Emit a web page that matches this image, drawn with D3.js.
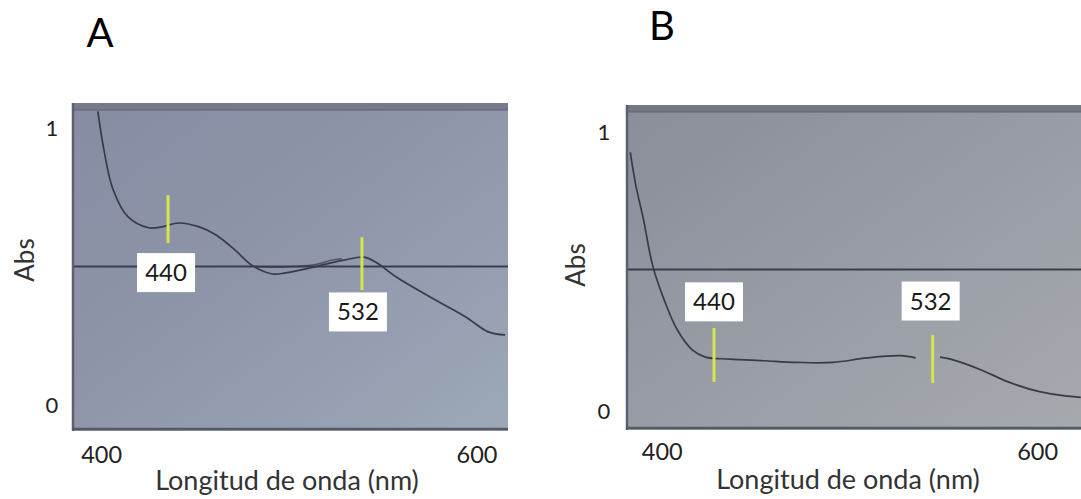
<!doctype html>
<html>
<head>
<meta charset="utf-8">
<script src="https://cdn.jsdelivr.net/npm/d3@7"></script>
<style>
  html, body { margin: 0; padding: 0; background: #ffffff; }
  svg { display: block; }
</style>
</head>
<body>
<div id="chart"></div>
<script>
// Spectra (wavelength nm, Abs)
const wavelengthsA = [398, 401, 406, 414, 425, 432, 441, 452, 461, 471, 480, 491, 498, 511, 522, 529, 540, 546, 557, 575, 594, 606, 615];
const absA = [1.06, 0.93, 0.78, 0.68, 0.64, 0.643, 0.657, 0.643, 0.614, 0.56, 0.505, 0.473, 0.477, 0.495, 0.513, 0.523, 0.534, 0.516, 0.462, 0.39, 0.318, 0.264, 0.253];

// faint second trace overlapping the midline in A
const wavelengthsA2 = [481, 492, 503, 514, 522, 528];
const absA2 = [0.5, 0.497, 0.5, 0.507, 0.522, 0.528];

// B has a gap in the trace around the 532 marker
const wavelengthsB1 = [383, 386, 390, 395, 401, 408, 416, 423, 436, 454, 472, 491, 509, 527, 535];
const absB1 = [0.92, 0.8, 0.68, 0.512, 0.392, 0.284, 0.212, 0.186, 0.179, 0.173, 0.167, 0.167, 0.183, 0.191, 0.183];
const wavelengthsB2 = [548, 555, 570, 584, 601, 616, 623];
const absB2 = [0.186, 0.176, 0.14, 0.098, 0.062, 0.046, 0.042];

const xTicks = [400, 600];
const yTicks = [0, 1];
const midlineAbs = 0.5;

// annotation markers: label, marker wavelength, marker top/bottom and box centre (Abs)
const peakLabels = ["440", "532"];
const markerWlA = [435.4, 538.7];
const markerTopA = [0.758, 0.606];
const markerBotA = [0.585, 0.415];
const boxAbsA = [0.478, 0.336];

const markerWlB = [427.6, 544.1];
const markerTopB = [0.29, 0.265];
const markerBotB = [0.097, 0.093];
const boxAbsB = [0.384, 0.387];

const W = 1081, H = 499;
const FONT = 'Lato, "Open Sans", "Noto Sans", sans-serif';
const TEXT = "#222222";
const CURVE = "#373b48";
const MARK = "#d4e64c";

const svg = d3.select("#chart").append("svg")
  .attr("width", W).attr("height", H)
  .style("font-family", FONT);

const defs = svg.append("defs");

function zip(xs, ys) { return xs.map((x, i) => [x, ys[i]]); }

function addGradient(id, stops) {
  const g = defs.append("linearGradient").attr("id", id)
    .attr("x1", "0%").attr("y1", "0%").attr("x2", "100%").attr("y2", "100%");
  stops.forEach(([o, c]) => g.append("stop").attr("offset", o).attr("stop-color", c));
}

addGradient("bgA", [["0%", "#868ca1"], ["45%", "#8f95a9"], ["100%", "#9ca8b8"]]);
addGradient("bgB", [["0%", "#8a8e99"], ["50%", "#989ca5"], ["100%", "#a6a9ae"]]);

function renderPanel(o) {
  const x = d3.scaleLinear().domain([400, 600]).range(o.xRange);
  const y = d3.scaleLinear().domain([0, 1]).range(o.yRange);
  const g = svg.append("g");
  const r = o.plot;

  // screen background
  g.append("rect")
    .attr("x", r.x0).attr("y", r.y0)
    .attr("width", r.x1 - r.x0).attr("height", r.y1 - r.y0)
    .attr("fill", `url(#${o.id})`);

  // darker top band + frame edges as on the screen
  g.append("rect")
    .attr("x", r.x0).attr("y", r.y0)
    .attr("width", r.x1 - r.x0).attr("height", 7)
    .attr("fill", o.bandColor);
  g.append("line")
    .attr("x1", r.x0).attr("x2", r.x1).attr("y1", r.y0 + 7).attr("y2", r.y0 + 7)
    .attr("stroke", "#5f6372").attr("stroke-width", 1);
  g.append("line")
    .attr("x1", r.x0 + 1).attr("x2", r.x0 + 1).attr("y1", r.y0).attr("y2", r.y1)
    .attr("stroke", "#5c606c").attr("stroke-width", 2.5);
  g.append("line")
    .attr("x1", r.x0).attr("x2", r.x1).attr("y1", r.y1 - 2).attr("y2", r.y1 - 2)
    .attr("stroke", "#555a66").attr("stroke-width", 2.5);

  const clipId = "clip" + o.id;
  defs.append("clipPath").attr("id", clipId)
    .append("rect")
    .attr("x", r.x0 + 2).attr("y", r.y0 + 7)
    .attr("width", r.x1 - r.x0 - 2).attr("height", r.y1 - r.y0 - 9);

  const plot = g.append("g").attr("clip-path", `url(#${clipId})`);

  // horizontal reference at Abs 0.5
  plot.append("line")
    .attr("x1", r.x0).attr("x2", r.x1)
    .attr("y1", y(midlineAbs)).attr("y2", y(midlineAbs))
    .attr("stroke", "#3a3f4f").attr("stroke-width", 2);

  const line = d3.line()
    .x((d) => x(d[0]))
    .y((d) => y(d[1]))
    .curve(d3.curveCatmullRom.alpha(0.5));

  o.traces.forEach((t) => {
    plot.append("path")
      .datum(t.data)
      .attr("fill", "none")
      .attr("stroke", CURVE)
      .attr("stroke-width", t.width)
      .attr("opacity", t.opacity)
      .attr("d", line);
  });

  // yellow markers + white label boxes
  const boxW = 58, boxH = 39;
  peakLabels.forEach((lab, i) => {
    plot.append("line")
      .attr("x1", x(o.markerWl[i])).attr("x2", x(o.markerWl[i]))
      .attr("y1", y(o.markerTop[i])).attr("y2", y(o.markerBot[i]))
      .attr("stroke", MARK).attr("stroke-width", 3);

    const cx = x(o.markerWl[i]) + o.boxShift[i];
    const cy = y(o.boxAbs[i]);
    g.append("rect")
      .attr("x", cx - boxW / 2).attr("y", cy - boxH / 2)
      .attr("width", boxW).attr("height", boxH)
      .attr("fill", "#ffffff");
    g.append("text")
      .attr("x", cx).attr("y", cy + 8.5)
      .attr("text-anchor", "middle")
      .attr("fill", "#1a1a1a")
      .attr("font-size", 24)
      .text(lab);
  });

  // tick labels
  yTicks.forEach((v) => {
    g.append("text")
      .attr("x", o.yLabelX).attr("y", y(v) + 8 + o.yLabelDy)
      .attr("text-anchor", "middle")
      .attr("fill", TEXT).attr("font-size", 22)
      .text(v);
  });
  xTicks.forEach((v) => {
    g.append("text")
      .attr("x", x(v)).attr("y", o.xLabelY)
      .attr("text-anchor", "middle")
      .attr("fill", TEXT).attr("font-size", 23.5)
      .text(v);
  });

  // axis titles
  g.append("text")
    .attr("x", o.xTitle[0]).attr("y", o.xTitle[1])
    .attr("text-anchor", "middle")
    .attr("fill", "#333333").attr("font-size", 27)
    .text("Longitud de onda (nm)");
  g.append("text")
    .attr("transform", `translate(${o.yTitle[0]},${o.yTitle[1]}) rotate(-90)`)
    .attr("text-anchor", "middle")
    .attr("dy", "0.35em")
    .attr("fill", "#333333").attr("font-size", 26)
    .text("Abs");

  // panel letter
  svg.append("text")
    .attr("x", o.letter[0]).attr("y", o.letter[1])
    .attr("text-anchor", "middle")
    .attr("fill", "#000000").attr("font-size", 40)
    .text(o.name);
}

renderPanel({
  id: "bgA", name: "A",
  plot: { x0: 72, x1: 508, y0: 103, y1: 431 },
  xRange: [101.6, 477],
  yRange: [405, 128],
  bandColor: "#767a8c",
  traces: [
    { data: zip(wavelengthsA, absA), width: 1.7, opacity: 1 },
    { data: zip(wavelengthsA2, absA2), width: 1.4, opacity: 0.75 },
  ],
  markerWl: markerWlA, markerTop: markerTopA, markerBot: markerBotA,
  boxAbs: boxAbsA, boxShift: [-2, -4],
  yLabelX: 52, yLabelDy: 0,
  xLabelY: 463,
  xTitle: [287, 490],
  yTitle: [25, 260],
  letter: [100, 47],
});

renderPanel({
  id: "bgB", name: "B",
  plot: { x0: 626, x1: 1084, y0: 105, y1: 430 },
  xRange: [662.2, 1037.6],
  yRange: [409, 130],
  bandColor: "#747883",
  traces: [
    { data: zip(wavelengthsB1, absB1), width: 1.7, opacity: 1 },
    { data: zip(wavelengthsB2, absB2), width: 1.7, opacity: 1 },
  ],
  markerWl: markerWlB, markerTop: markerTopB, markerBot: markerBotB,
  boxAbs: boxAbsB, boxShift: [0, -2],
  yLabelX: 604, yLabelDy: 2,
  xLabelY: 460,
  xTitle: [848, 489],
  yTitle: [576, 265],
  letter: [662, 40],
});
</script>
</body>
</html>
